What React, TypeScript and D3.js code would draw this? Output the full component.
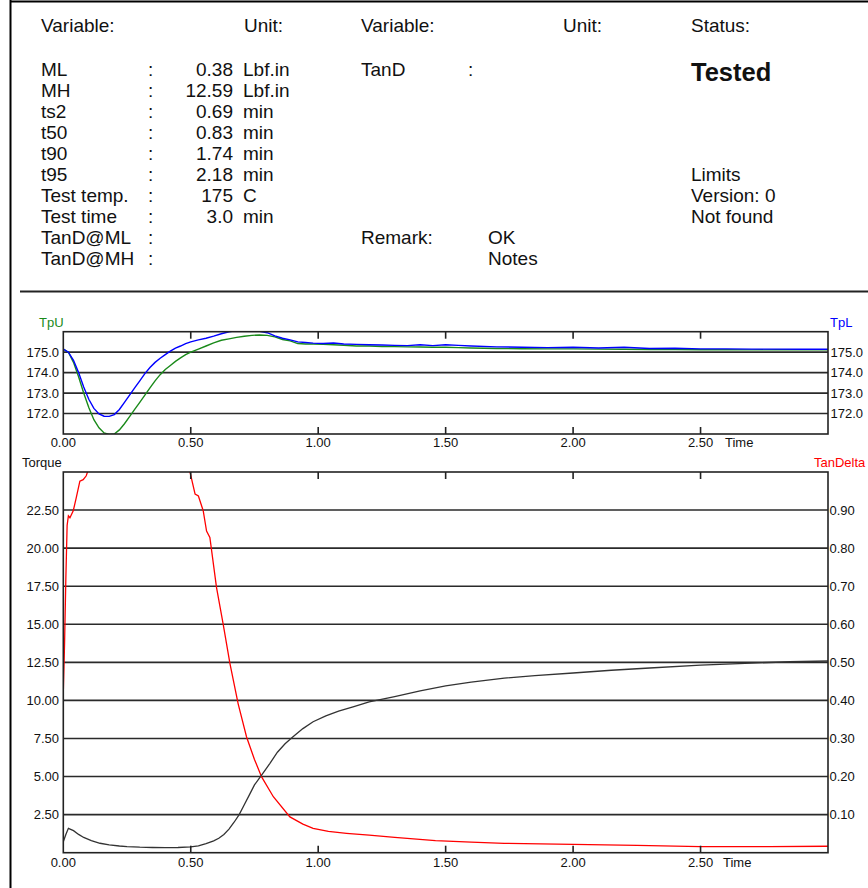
import React from "react";
import * as d3 from "d3";

// ---------- header data ----------
const paramNames = ["ML", "MH", "ts2", "t50", "t90", "t95", "Test temp.", "Test time", "TanD@ML", "TanD@MH"];
const paramValues = ["0.38", "12.59", "0.69", "0.83", "1.74", "2.18", "175", "3.0", "", ""];
const paramUnits = ["Lbf.in", "Lbf.in", "min", "min", "min", "min", "C", "min", "", ""];
const statusLines = ["Limits", "Version: 0", "Not found"];
const remarkLines = ["OK", "Notes"];

// ---------- temperature chart data ----------
const tempTime = [0, 0.02, 0.04, 0.06, 0.08, 0.10, 0.12, 0.14, 0.16, 0.18, 0.20, 0.22, 0.24, 0.26, 0.28, 0.30, 0.32, 0.34, 0.36, 0.38, 0.40, 0.42, 0.44, 0.46, 0.48, 0.50, 0.53, 0.56, 0.59, 0.62, 0.65, 0.68, 0.71, 0.74, 0.77, 0.80, 0.83, 0.86, 0.89, 0.92, 0.95, 0.98, 1.02, 1.06, 1.10, 1.15, 1.20, 1.25, 1.30, 1.35, 1.40, 1.45, 1.50, 1.55, 1.60, 1.70, 1.80, 1.90, 2.00, 2.10, 2.20, 2.30, 2.40, 2.50, 2.60, 2.70, 2.80, 2.90, 3.00];
const tpL = [175.15, 175.0, 174.6, 174.0, 173.3, 172.7, 172.25, 171.98, 171.87, 171.86, 171.95, 172.2, 172.55, 172.9, 173.25, 173.6, 173.95, 174.25, 174.5, 174.7, 174.88, 175.05, 175.2, 175.3, 175.42, 175.5, 175.6, 175.68, 175.78, 175.9, 176.0, 176.05, 176.06, 176.05, 176.02, 175.95, 175.8, 175.68, 175.6, 175.5, 175.47, 175.44, 175.42, 175.45, 175.4, 175.38, 175.36, 175.35, 175.33, 175.32, 175.36, 175.32, 175.36, 175.33, 175.3, 175.26, 175.24, 175.22, 175.24, 175.2, 175.24, 175.18, 175.19, 175.16, 175.16, 175.15, 175.15, 175.14, 175.14];
const tpU = [175.15, 175.0, 174.5, 173.8, 173.0, 172.3, 171.7, 171.3, 171.05, 170.98, 171.0, 171.2, 171.5, 171.85, 172.2, 172.55, 172.9, 173.25, 173.6, 173.9, 174.15, 174.35, 174.55, 174.72, 174.88, 175.0, 175.15, 175.3, 175.45, 175.58, 175.65, 175.72, 175.78, 175.82, 175.84, 175.82, 175.75, 175.62, 175.55, 175.42, 175.4, 175.4, 175.38, 175.36, 175.34, 175.3, 175.3, 175.28, 175.27, 175.26, 175.25, 175.24, 175.24, 175.22, 175.2, 175.18, 175.17, 175.16, 175.16, 175.15, 175.14, 175.13, 175.13, 175.12, 175.12, 175.11, 175.12, 175.12, 175.12];
const tempTicks = [172, 173, 174, 175];

// ---------- torque / tan delta data ----------
const torqueTime = [0, 0.01, 0.02, 0.04, 0.06, 0.08, 0.11, 0.144, 0.18, 0.22, 0.25, 0.30, 0.35, 0.40, 0.45, 0.50, 0.53, 0.56, 0.59, 0.61, 0.63, 0.65, 0.67, 0.69, 0.71, 0.73, 0.75, 0.78, 0.81, 0.84, 0.87, 0.90, 0.94, 0.98, 1.03, 1.08, 1.14, 1.20, 1.30, 1.40, 1.50, 1.60, 1.73, 1.85, 2.00, 2.15, 2.30, 2.50, 2.70, 2.85, 3.00];
const torque = [0.72, 1.2, 1.6, 1.45, 1.2, 1.0, 0.8, 0.62, 0.52, 0.44, 0.4, 0.36, 0.34, 0.33, 0.34, 0.38, 0.45, 0.6, 0.78, 0.95, 1.2, 1.55, 2.0, 2.5, 3.15, 3.8, 4.45, 5.15, 5.85, 6.6, 7.15, 7.6, 8.15, 8.6, 8.98, 9.3, 9.6, 9.9, 10.25, 10.62, 10.95, 11.2, 11.46, 11.63, 11.8, 11.98, 12.13, 12.32, 12.45, 12.54, 12.59];
const tanDTime = [0, 0.005, 0.01, 0.015, 0.02, 0.026, 0.039, 0.05, 0.065, 0.078, 0.09, 0.10, 0.15, 0.20, 0.30, 0.40, 0.45, 0.48, 0.497, 0.517, 0.53, 0.549, 0.562, 0.575, 0.601, 0.627, 0.654, 0.686, 0.719, 0.75, 0.778, 0.824, 0.889, 0.94, 0.98, 1.04, 1.111, 1.20, 1.30, 1.46, 1.60, 1.73, 2.00, 2.25, 2.50, 2.77, 3.00];
const tanDelta = [0.42, 0.55, 0.72, 0.86, 0.885, 0.88, 0.898, 0.93, 0.976, 0.98, 0.99, 1.01, 1.15, 1.3, 1.4, 1.3, 1.15, 1.04, 1.0, 0.942, 0.937, 0.898, 0.845, 0.828, 0.697, 0.601, 0.496, 0.391, 0.304, 0.245, 0.199, 0.147, 0.094, 0.075, 0.064, 0.056, 0.051, 0.046, 0.04, 0.0315, 0.028, 0.0246, 0.022, 0.0193, 0.0157, 0.0157, 0.017];
const torqueTicks = [2.5, 5, 7.5, 10, 12.5, 15, 17.5, 20, 22.5];
const tanDTicks = [0.1, 0.2, 0.3, 0.4, 0.5, 0.6, 0.7, 0.8, 0.9];
const timeTicks = [0, 0.5, 1.0, 1.5, 2.0, 2.5];

const HFONT = "Arial, 'Liberation Sans', sans-serif";
const TXT = "#111";

export default function App() {
  const left = 63.3, right = 828;
  const x = d3.scaleLinear().domain([0, 3]).range([left, right]);

  const tTop = 331.7, tBot = 434;
  const yT = d3.scaleLinear().domain([171, 176]).range([tBot, tTop]);

  const mTop = 472, mBot = 852.7;
  const yM = d3.scaleLinear().domain([0, 25]).range([mBot, mTop]);
  const yD = d3.scaleLinear().domain([0, 1]).range([mBot, mTop]);

  const lineL = d3.line<number>().x((_, i) => x(tempTime[i])).y((d) => yT(d));
  const lineTq = d3.line<number>().x((_, i) => x(torqueTime[i])).y((d) => yM(d));
  const lineTd = d3.line<number>().x((_, i) => x(tanDTime[i])).y((d) => yD(d));

  const rowY = (i: number) => 75.5 + i * 21;
  const hs = 19;

  const tickFont = { fontFamily: HFONT, fontSize: 13, fill: TXT } as const;

  return (
    <svg width={868} height={888} style={{ position: "absolute", left: 0, top: 0, background: "#fff" }}>
      <defs>
        <clipPath id="clipT"><rect x={left} y={tTop} width={right - left} height={tBot - tTop} /></clipPath>
        <clipPath id="clipM"><rect x={left} y={mTop} width={right - left} height={mBot - mTop} /></clipPath>
      </defs>

      {/* page frame */}
      <line x1={10.5} y1={0} x2={10.5} y2={888} stroke="#000" strokeWidth={2} />
      <line x1={10} y1={1.5} x2={868} y2={1.5} stroke="#000" strokeWidth={2} />
      <line x1={20} y1={291.5} x2={868} y2={291.5} stroke="#222" strokeWidth={2} />

      {/* header */}
      <g style={{ fontFamily: HFONT, fontSize: hs }} fill={TXT}>
        <text x={41} y={32}>Variable:</text>
        <text x={244} y={32}>Unit:</text>
        <text x={361} y={32}>Variable:</text>
        <text x={563} y={32}>Unit:</text>
        <text x={691} y={32}>Status:</text>
        {paramNames.map((n, i) => (
          <g key={n}>
            <text x={41} y={rowY(i)}>{n}</text>
            <text x={148} y={rowY(i)}>:</text>
            <text x={233} y={rowY(i)} textAnchor="end">{paramValues[i]}</text>
            <text x={243} y={rowY(i)}>{paramUnits[i]}</text>
          </g>
        ))}
        <text x={361} y={rowY(0)}>TanD</text>
        <text x={468} y={rowY(0)}>:</text>
        <text x={361} y={rowY(8)}>Remark:</text>
        {remarkLines.map((r, i) => (
          <text key={r} x={488} y={rowY(8 + i)}>{r}</text>
        ))}
        {statusLines.map((s, i) => (
          <text key={s} x={691} y={rowY(5 + i)}>{s}</text>
        ))}
        <text x={691} y={81} style={{ fontSize: 25.5, fontWeight: 700 }}>Tested</text>
      </g>

      {/* ---------- temperature chart ---------- */}
      <g>
        {tempTicks.map((t) => (
          <line key={t} x1={left} x2={right} y1={yT(t)} y2={yT(t)} stroke="#2a2a2a" strokeWidth={1.6} />
        ))}
        <g clipPath="url(#clipT)">
          <path d={lineL(tpU) || ""} fill="none" stroke="#1a8a1a" strokeWidth={1.4} />
          <path d={lineL(tpL) || ""} fill="none" stroke="#0000ff" strokeWidth={1.4} />
        </g>
        <rect x={left} y={tTop} width={right - left} height={tBot - tTop} fill="none" stroke="#222" strokeWidth={1.6} />
        {timeTicks.filter((t) => t > 0).map((t) => (
          <g key={t}>
            <line x1={x(t)} x2={x(t)} y1={tTop} y2={tTop + 7} stroke="#222" strokeWidth={1.6} />
            <line x1={x(t)} x2={x(t)} y1={tBot} y2={tBot - 7} stroke="#222" strokeWidth={1.6} />
          </g>
        ))}
        {tempTicks.map((t) => (
          <g key={t}>
            <text x={59} y={yT(t)} textAnchor="end" dominantBaseline="central" {...tickFont}>{t.toFixed(1)}</text>
            <text x={830.5} y={yT(t)} dominantBaseline="central" {...tickFont}>{t.toFixed(1)}</text>
          </g>
        ))}
        {timeTicks.map((t) => (
          <text key={t} x={x(t)} y={447} textAnchor="middle" {...tickFont}>{t.toFixed(2)}</text>
        ))}
        <text x={725} y={447} {...tickFont}>Time</text>
        <text x={39} y={327} {...tickFont} fill="#1a8a1a">TpU</text>
        <text x={830} y={327} {...tickFont} fill="#0000ff">TpL</text>
      </g>

      {/* ---------- torque / tan delta chart ---------- */}
      <g>
        {torqueTicks.map((t) => (
          <line key={t} x1={left} x2={right} y1={yM(t)} y2={yM(t)} stroke="#2a2a2a" strokeWidth={1.6} />
        ))}
        <g clipPath="url(#clipM)">
          <path d={lineTd(tanDelta) || ""} fill="none" stroke="#ff0000" strokeWidth={1.3} />
          <path d={lineTq(torque) || ""} fill="none" stroke="#333" strokeWidth={1.3} />
        </g>
        <rect x={left} y={mTop} width={right - left} height={mBot - mTop} fill="none" stroke="#222" strokeWidth={1.6} />
        {timeTicks.filter((t) => t > 0).map((t) => (
          <g key={t}>
            <line x1={x(t)} x2={x(t)} y1={mTop} y2={mTop + 7} stroke="#222" strokeWidth={1.6} />
            <line x1={x(t)} x2={x(t)} y1={mBot} y2={mBot - 7} stroke="#222" strokeWidth={1.6} />
          </g>
        ))}
        {torqueTicks.map((t) => (
          <text key={t} x={59} y={yM(t)} textAnchor="end" dominantBaseline="central" {...tickFont}>{t.toFixed(2)}</text>
        ))}
        {tanDTicks.map((t) => (
          <text key={t} x={829.5} y={yD(t)} dominantBaseline="central" {...tickFont}>{t.toFixed(2)}</text>
        ))}
        {timeTicks.map((t) => (
          <text key={t} x={x(t)} y={867} textAnchor="middle" {...tickFont}>{t.toFixed(2)}</text>
        ))}
        <text x={723} y={867} {...tickFont}>Time</text>
        <text x={22} y={467} {...tickFont}>Torque</text>
        <text x={814} y={467} {...tickFont} fill="#ff0000">TanDelta</text>
      </g>
    </svg>
  );
}
